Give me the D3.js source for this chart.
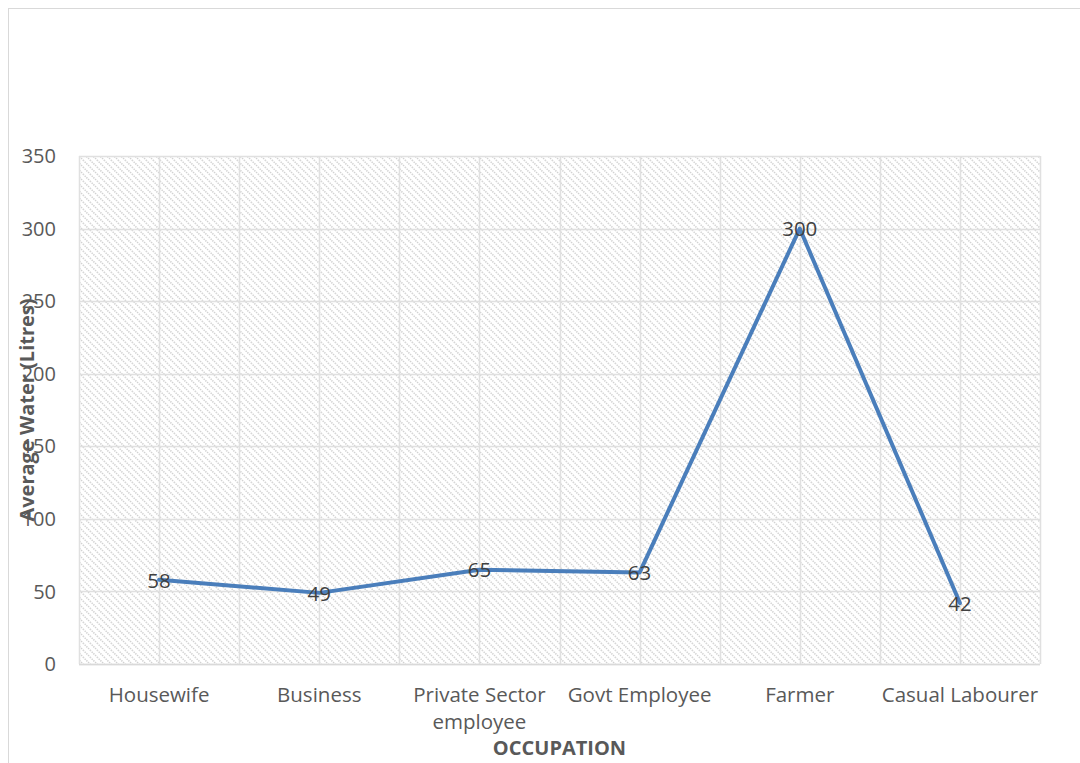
<!DOCTYPE html>
<html><head><meta charset="utf-8">
<script src="https://cdn.jsdelivr.net/npm/d3@7"></script>
<style>body{margin:0;background:#fff}svg{display:block}</style>
</head><body>
<svg id="c" width="1080" height="763"></svg>
<script>
const categories = ["Housewife","Business","Private Sector employee","Govt Employee","Farmer","Casual Labourer"];
const categoryLines = [["Housewife"],["Business"],["Private Sector","employee"],["Govt Employee"],["Farmer"],["Casual Labourer"]];
const values = [58,49,65,63,300,42];
const yTicks = [0,50,100,150,200,250,300,350];
const yTitle = "Average Water (Litres)";
const xTitle = "OCCUPATION";

const svg = d3.select("#c");
const font = "'Open Sans', 'Liberation Sans', sans-serif";
const pLeft = 79, pRight = 1040, pTop = 156, pBottom = 664;

// outer chart border
svg.append("rect").attr("x",8.5).attr("y",8.5).attr("width",1100).attr("height",800)
  .attr("fill","#fff").attr("stroke","#d9d9d9").attr("stroke-width",1);

const defs = svg.append("defs");
const pat = defs.append("pattern").attr("id","hatch").attr("patternUnits","userSpaceOnUse")
  .attr("width",7).attr("height",7);
pat.append("path").attr("d","M-1,-1 L8,8 M-1,6 L1,8 M6,-1 L8,1")
  .attr("stroke","#d2d2d2").attr("stroke-width",1.5).attr("stroke-dasharray","1.4,1");

const x = d3.scaleBand().domain(categories).range([pLeft,pRight]);
const y = d3.scaleLinear().domain([0,350]).range([pBottom,pTop]);

svg.append("rect").attr("x",pLeft).attr("y",pTop).attr("width",pRight-pLeft).attr("height",pBottom-pTop)
  .attr("fill","url(#hatch)");

// gridlines
const g = svg.append("g");
g.selectAll(".hg").data(yTicks).join("line")
  .attr("x1",pLeft).attr("x2",pRight).attr("y1",d=>Math.round(y(d))+0.5).attr("y2",d=>Math.round(y(d))+0.5)
  .attr("stroke","#e0e0e0").attr("stroke-width",1.5);
const vpos = [];
categories.forEach(c=>{vpos.push(x(c)); vpos.push(x(c)+x.bandwidth()/2);});
vpos.push(pRight);
g.selectAll(".vg").data(vpos).join("line")
  .attr("x1",d=>Math.round(d)+0.5).attr("x2",d=>Math.round(d)+0.5).attr("y1",pTop).attr("y2",pBottom)
  .attr("stroke","#e0e0e0").attr("stroke-width",1.5);
svg.append("line").attr("x1",pLeft).attr("x2",pRight).attr("y1",pBottom+0.5).attr("y2",pBottom+0.5)
  .attr("stroke","#d9d9d9").attr("stroke-width",1.5);

// y tick labels
svg.selectAll(".yt").data(yTicks).join("text")
  .attr("x",56).attr("y",d=>y(d)).attr("dy","0.36em").attr("text-anchor","end")
  .attr("font-family",font).attr("font-size",20).attr("fill","#595959").text(d=>d);

// x labels
categories.forEach((c,i)=>{
  const t = svg.append("text").attr("x",x(c)+x.bandwidth()/2).attr("y",702).attr("text-anchor","middle")
    .attr("font-family",font).attr("font-size",20.5).attr("fill","#595959");
  categoryLines[i].forEach((ln,j)=>t.append("tspan").attr("x",x(c)+x.bandwidth()/2).attr("dy",j?27:0).text(ln));
});

// line
const line = d3.line().x((d,i)=>x(categories[i])+x.bandwidth()/2).y(d=>y(d));
svg.append("path").datum(values).attr("d",line).attr("fill","none")
  .attr("stroke","#4a7ebb").attr("stroke-width",4).attr("stroke-linejoin","round").attr("stroke-linecap","round");

// data labels
svg.selectAll(".dl").data(values).join("text")
  .attr("x",(d,i)=>x(categories[i])+x.bandwidth()/2).attr("y",d=>y(d)).attr("dy","0.38em")
  .attr("text-anchor","middle").attr("font-family",font).attr("font-size",20.5).attr("fill","#404040").text(d=>d);

// axis titles
svg.append("text").attr("transform","translate(34,410) rotate(-90)").attr("text-anchor","middle")
  .attr("font-family",font).attr("font-size",20).attr("font-weight","bold").attr("fill","#595959").text(yTitle);
svg.append("text").attr("x",(pLeft+pRight)/2).attr("y",755).attr("text-anchor","middle")
  .attr("font-family",font).attr("font-size",20).attr("font-weight","bold").attr("fill","#595959").text(xTitle);
</script>
</body></html>
